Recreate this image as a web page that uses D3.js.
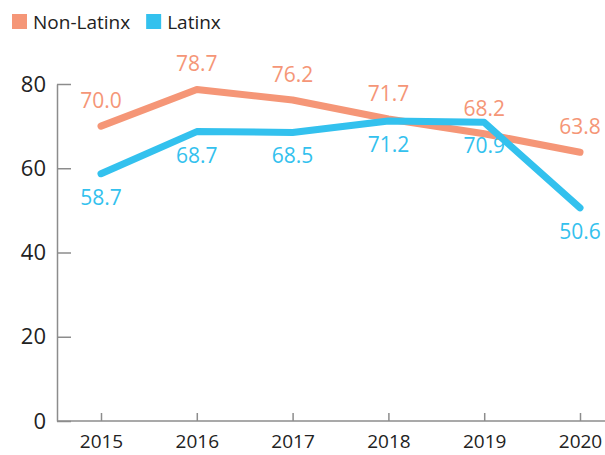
<!DOCTYPE html>
<html>
<head>
<meta charset="utf-8">
<script src="https://cdn.jsdelivr.net/npm/d3@7"></script>
<style>
  body { margin: 0; background: #fff; }
  text { font-family: "Open Sans", "DejaVu Sans", sans-serif; }
</style>
</head>
<body>
<div class="chart_Container"></div>
<script>
// values
const years = ['2015', '2016', '2017', '2018', '2019', '2020'];
const nonLatinx = [70.0, 78.7, 76.2, 71.7, 68.2, 63.8];
const latinx = [58.7, 68.7, 68.5, 71.2, 70.9, 50.6];
const yTicks = [0, 20, 40, 60, 80];

const seriesList = [
  {name: 'Non-Latinx', values: nonLatinx, color: '#F59677', labelPos: 'above'},
  {name: 'Latinx', values: latinx, color: '#33C1EE', labelPos: 'below'}
];

const W = 605, H = 455;
const margin = ({top: 0, left: 57, right: 0, bottom: 0});

const svg = d3.select('.chart_Container')
  .append('svg')
  .attr('width', W)
  .attr('height', H);

// x as a point scale, first year at ~101 and last at ~580
const x = d3.scalePoint()
  .domain(years)
  .range([101, 580]);

const y = d3.scaleLinear()
  .domain([0, 80])
  .range([421, 84]);

// y axis, ticks pointing inward
const yAxis = svg.append('g')
  .attr('transform', `translate(${margin.left},0)`)
  .call(d3.axisLeft(y).tickValues(yTicks).tickSize(-14).tickPadding(11).tickSizeOuter(0));

// x axis
const xAxis = svg.append('g')
  .attr('transform', `translate(0,${y(0)})`)
  .call(d3.axisBottom(x).tickSize(-8).tickPadding(14).tickSizeOuter(0));

// stretch the x domain line from the y axis to the right edge
xAxis.select('.domain').attr('d', `M${margin.left},0H${W}`);

[yAxis, xAxis].forEach(ax => {
  ax.selectAll('.domain, .tick line').attr('stroke', '#8c8c8c').attr('stroke-width', 1.5);
  ax.selectAll('text').attr('fill', '#222').style('font-size', '22px');
});
xAxis.selectAll('text').attr('dy', '0.71em').style('font-size', '19px');

const line = d3.line()
  .x((d, i) => x(years[i]))
  .y(d => y(d));

seriesList.forEach(s => {
  svg.append('path')
    .datum(s.values)
    .attr('fill', 'none')
    .attr('stroke', s.color)
    .attr('stroke-width', 7)
    .attr('stroke-linecap', 'round')
    .attr('stroke-linejoin', 'round')
    .attr('d', line);

  svg.selectAll('.lbl-' + s.name)
    .data(s.values)
    .enter()
    .append('text')
    .attr('x', (d, i) => x(years[i]))
    .attr('y', d => s.labelPos === 'above' ? y(d) - 18 : y(d) + 31)
    .attr('text-anchor', 'middle')
    .attr('fill', s.color)
    .style('font-size', '21px')
    .text(d => d.toFixed(1));
});

// legend
const legend = svg.append('g');
let lx = 12;
seriesList.forEach(s => {
  legend.append('rect')
    .attr('x', lx).attr('y', 14)
    .attr('width', 15).attr('height', 15)
    .attr('fill', s.color);
  const t = legend.append('text')
    .attr('x', lx + 21).attr('y', 29)
    .attr('fill', '#222')
    .style('font-size', '19px')
    .text(s.name);
  lx += 21 + t.node().getComputedTextLength() + 16;
});
</script>
</body>
</html>
